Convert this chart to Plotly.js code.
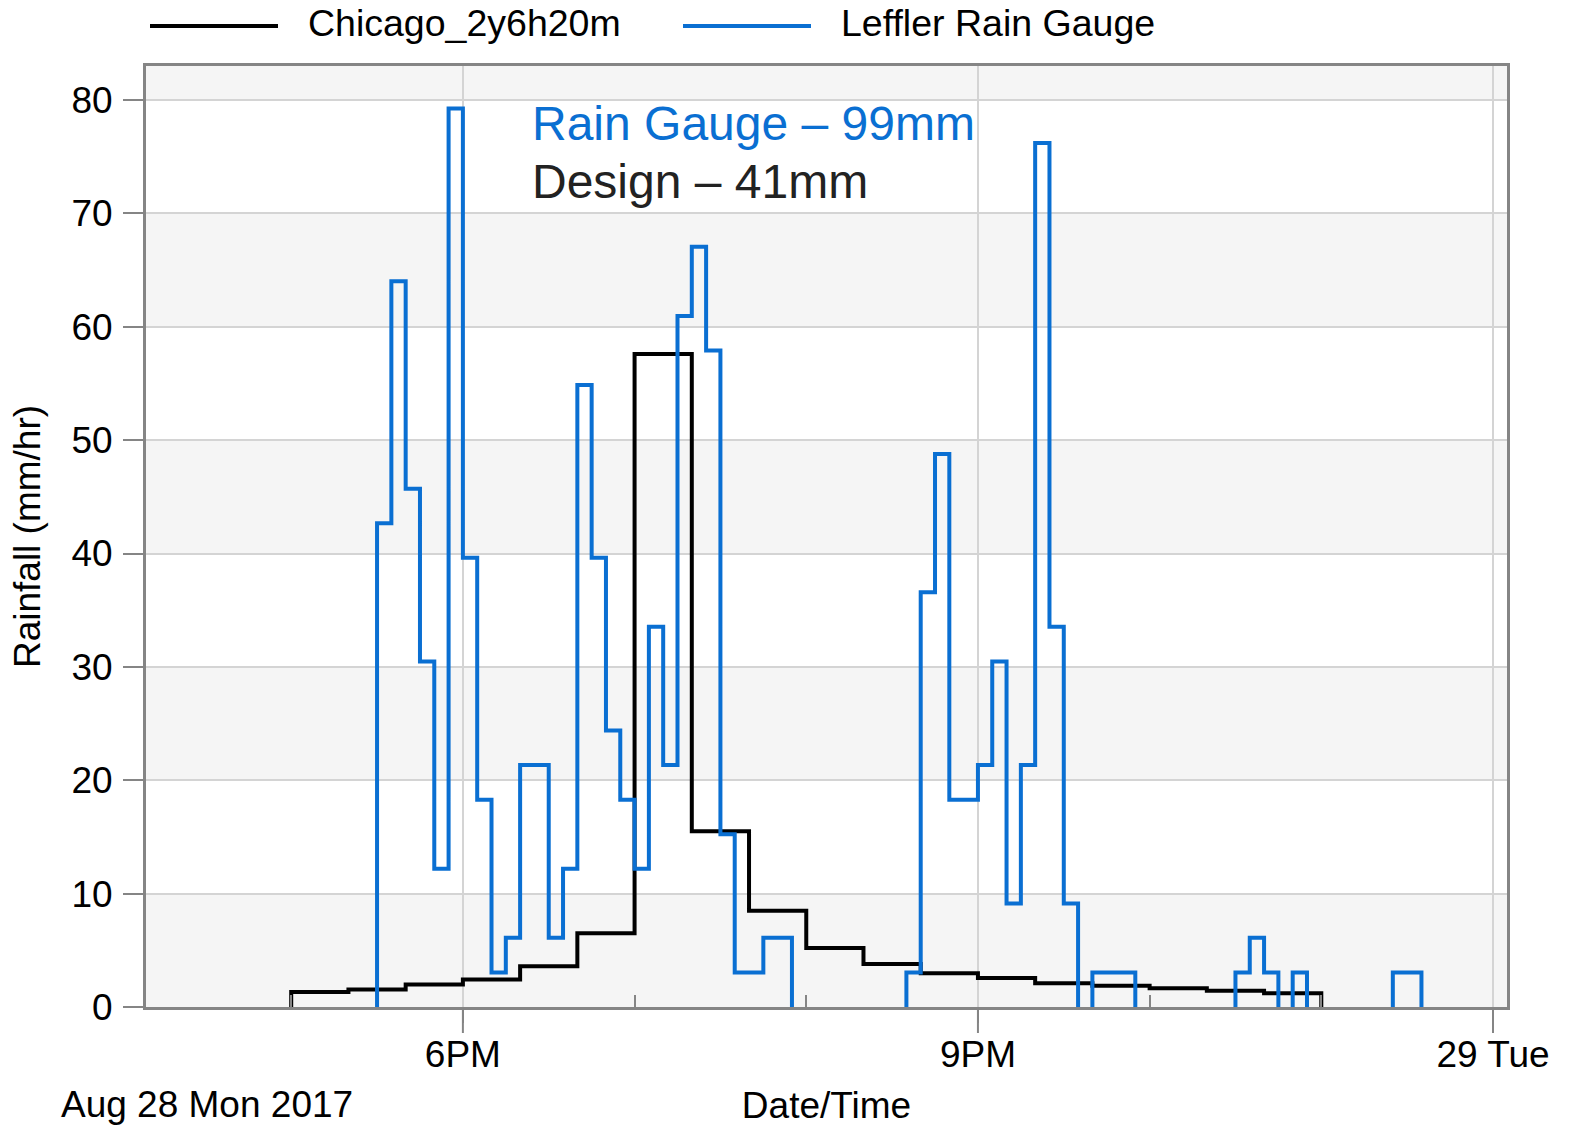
<!DOCTYPE html>
<html>
<head>
<meta charset="utf-8">
<script src="https://cdn.plot.ly/plotly-3.0.1.min.js"></script>
<style>
  html, body { margin: 0; padding: 0; background: #ffffff; }
  #chart { width: 1569px; height: 1126px; }
</style>
</head>
<body>
<div id="chart"></div>
<script>
// ---------------- DATA ----------------
const chartDate = '2017-08-28';

// Chicago design storm (2-yr, 6-h, 20-min blocks), mm/hr; last entry closes the step
const designName = 'Chicago_2y6h20m';
const designTime = ['17:00','17:20','17:40','18:00','18:20','18:40','19:00','19:20','19:40',
                    '20:00','20:20','20:40','21:00','21:20','21:40','22:00','22:20','22:40','23:00'];
const designRain = [1.32, 1.54, 1.98, 2.42, 3.6, 6.5, 57.6, 15.5, 8.5,
                    5.2, 3.8, 2.97, 2.55, 2.1, 1.88, 1.65, 1.44, 1.22, 0];

// Leffler rain gauge, 5-minute intensities, mm/hr; last entry closes the step
const gaugeName = 'Leffler Rain Gauge';
const gaugeTime = [
  '17:30','17:35','17:40','17:45','17:50','17:55',
  '18:00','18:05','18:10','18:15','18:20','18:25','18:30','18:35','18:40','18:45','18:50','18:55',
  '19:00','19:05','19:10','19:15','19:20','19:25','19:30','19:35','19:40','19:45','19:50','19:55',
  '20:00','20:05','20:10','20:15','20:20','20:25','20:30','20:35','20:40','20:45','20:50','20:55',
  '21:00','21:05','21:10','21:15','21:20','21:25','21:30','21:35','21:40','21:45','21:50','21:55',
  '22:00','22:05','22:10','22:15','22:20','22:25','22:30','22:35','22:40','22:45','22:50','22:55',
  '23:00','23:05','23:10','23:15','23:20','23:25','23:30','23:35'];
const gaugeRain = [
  42.67, 64.01, 45.72, 30.48, 12.19, 79.25,
  39.62, 18.29, 3.05, 6.10, 21.34, 21.34, 6.10, 12.19, 54.86, 39.62, 24.38, 18.29,
  12.19, 33.53, 21.34, 60.96, 67.06, 57.91, 15.24, 3.05, 3.05, 6.10, 6.10, 0,
  0, 0, 0, 0, 0, 0, 0, 3.05, 36.58, 48.77, 18.29, 18.29,
  21.34, 30.48, 9.14, 21.34, 76.20, 33.53, 9.14, 0, 3.05, 3.05, 3.05, 0,
  0, 0, 0, 0, 0, 0, 3.05, 6.10, 3.05, 0, 3.05, 0,
  0, 0, 0, 0, 0, 3.05, 3.05, 0];

// Axis ticks
const xRange = ['2017-08-28 16:09:15', '2017-08-29 00:04:54'];
const xTickVals = ['2017-08-28 18:00', '2017-08-28 21:00', '2017-08-29 00:00'];
const xTickLabels = ['6PM', '9PM', '29 Tue'];
const xMinorVals = ['2017-08-28 17:00', '2017-08-28 19:00', '2017-08-28 20:00',
                    '2017-08-28 22:00', '2017-08-28 23:00'];
const yTickVals = [0, 10, 20, 30, 40, 50, 60, 70, 80];
const yRange = [0, 83];

const noteGauge = 'Rain Gauge \u2013 99mm';
const noteDesign = 'Design \u2013 41mm';
const dateLabel = 'Aug 28 Mon 2017';

// ---------------- BUILD ----------------
// Step line that rises from / drops to the axis; zero runs become gaps
function stepSeries(times, values) {
  const x = [], y = [];
  let prev = 0;
  for (let i = 0; i < times.length; i++) {
    const t = chartDate + ' ' + times[i];
    const v = values[i];
    if (v > 0) {
      if (prev === 0) { x.push(t); y.push(0); }
      x.push(t); y.push(v);
    } else if (prev > 0) {
      x.push(t); y.push(0);
      x.push(null); y.push(null);
    }
    prev = v;
  }
  return { x, y };
}

const FONT = 'Liberation Sans, Arial, Helvetica, sans-serif';
const BLUE = '#0a6fd2';
const GRID = '#d4d4d4';
const FRAME = '#858585';

const d = stepSeries(designTime, designRain);
const g = stepSeries(gaugeTime, gaugeRain);

const traces = [
  { type: 'scatter', mode: 'lines', name: designName, x: d.x, y: d.y, connectgaps: false,
    line: { shape: 'hv', color: '#000000', width: 4 } },
  { type: 'scatter', mode: 'lines', name: gaugeName, x: g.x, y: g.y, connectgaps: false,
    line: { shape: 'hv', color: BLUE, width: 4 } }
];

// plot geometry (for paper-coordinate decorations)
const W = 1569, H = 1126, ML = 146, MR = 62, MT = 66, MB = 119;
const PW = W - ML - MR, PH = H - MT - MB;
const px = v => (v - ML) / PW;
const py = v => (H - MB - v) / PH;

// faint alternating background bands
const shapes = [];
for (let i = 0; i < yTickVals.length; i += 2) {
  shapes.push({ type: 'rect', xref: 'paper', yref: 'y', x0: 0, x1: 1,
    y0: yTickVals[i], y1: Math.min(yTickVals[i] + 10, yRange[1]),
    fillcolor: '#f5f5f5', line: { width: 0 }, layer: 'below' });
}
// long outside tick marks for the major x ticks
xTickVals.forEach(v => shapes.push({ type: 'line', xref: 'x', yref: 'paper',
  x0: v, x1: v, y0: 0, y1: py(1033), line: { color: FRAME, width: 2 } }));
// legend samples
shapes.push({ type: 'line', xref: 'paper', yref: 'paper', x0: px(150), x1: px(278),
  y0: py(26), y1: py(26), line: { color: '#000000', width: 4 } });
shapes.push({ type: 'line', xref: 'paper', yref: 'paper', x0: px(683), x1: px(811),
  y0: py(26), y1: py(26), line: { color: BLUE, width: 4 } });

const layout = {
  width: W, height: H,
  margin: { l: ML, r: MR, t: MT, b: MB, autoexpand: false },
  paper_bgcolor: '#ffffff', plot_bgcolor: '#ffffff',
  font: { family: FONT, size: 37, color: '#000000' },
  showlegend: false,
  xaxis: {
    type: 'date', range: xRange,
    tickmode: 'array', tickvals: xTickVals, ticktext: xTickLabels,
    ticks: 'outside', ticklen: 13, tickwidth: 2, tickcolor: FRAME,
    ticklabelstandoff: 0,
    tickfont: { family: FONT, size: 37, color: '#000' },
    showgrid: true, gridcolor: GRID, gridwidth: 2,
    minor: { tickmode: 'array', tickvals: xMinorVals, ticks: 'inside', ticklen: 12,
             tickwidth: 2, tickcolor: FRAME, showgrid: false },
    showline: true, mirror: true, linecolor: FRAME, linewidth: 3,
    zeroline: false, layer: 'above traces',
    title: { text: 'Date/Time', font: { family: FONT, size: 37, color: '#000' }, standoff: 24 }
  },
  yaxis: {
    range: yRange, tickmode: 'array', tickvals: yTickVals,
    ticks: 'outside', ticklen: 20, tickwidth: 2, tickcolor: FRAME,
    ticklabelstandoff: 3,
    tickfont: { family: FONT, size: 37, color: '#000' },
    showgrid: true, gridcolor: GRID, gridwidth: 2,
    showline: true, mirror: true, linecolor: FRAME, linewidth: 3,
    zeroline: false, layer: 'above traces',
    title: { text: 'Rainfall (mm/hr)', font: { family: FONT, size: 37, color: '#000' }, standoff: 20 }
  },
  shapes: shapes,
  annotations: [
    { xref: 'paper', yref: 'paper', x: px(306), y: py(23), xanchor: 'left', yanchor: 'middle',
      text: designName, showarrow: false, font: { family: FONT, size: 37.5, color: '#000' } },
    { xref: 'paper', yref: 'paper', x: px(839), y: py(23), xanchor: 'left', yanchor: 'middle',
      text: gaugeName, showarrow: false, font: { family: FONT, size: 37.5, color: '#000' } },
    { xref: 'paper', yref: 'paper', x: px(530), y: py(123.5), xanchor: 'left', yanchor: 'middle',
      text: noteGauge, showarrow: false, font: { family: FONT, size: 48, color: BLUE } },
    { xref: 'paper', yref: 'paper', x: px(530), y: py(181.5), xanchor: 'left', yanchor: 'middle',
      text: noteDesign, showarrow: false, font: { family: FONT, size: 48, color: '#222222' } },
    { xref: 'paper', yref: 'paper', x: px(59), y: py(1104), xanchor: 'left', yanchor: 'middle',
      text: dateLabel, showarrow: false, font: { family: FONT, size: 37, color: '#000' } }
  ]
};

Plotly.newPlot('chart', traces, layout, { staticPlot: true, displayModeBar: false });
</script>
</body>
</html>
